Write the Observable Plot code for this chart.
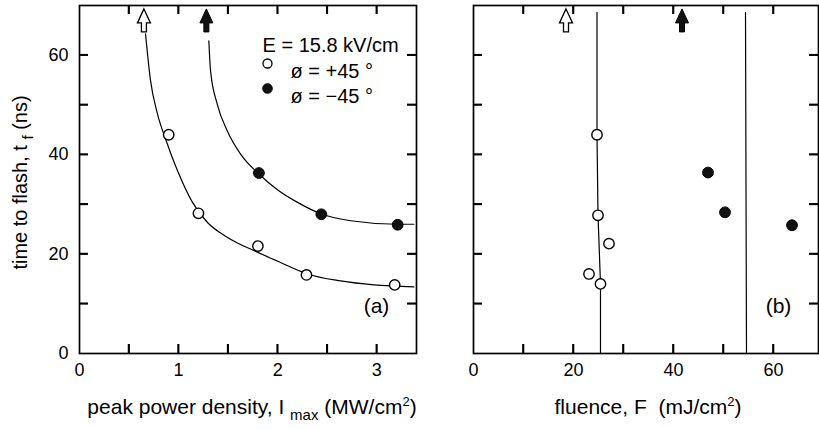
<!DOCTYPE html>
<html><head><meta charset="utf-8">
<script src="https://cdn.jsdelivr.net/npm/d3@7"></script>
<script src="https://cdn.jsdelivr.net/npm/@observablehq/plot@0.6"></script>
<style>
html,body{margin:0;padding:0;background:#fff;}
#wrap{position:relative;width:819px;height:429px;overflow:hidden;background:#fff;}
#pa{position:absolute;left:0;top:0;}
#pb{position:absolute;left:420px;top:0;}
</style></head>
<body><div id="wrap"><div id="pa"></div><div id="pb"></div></div>
<script>
// ---- data: panel (a) time to flash vs peak power density ----
const powerOpen = [0.9, 1.2, 1.8, 2.29, 3.18];
const timeOpen = [44, 28.2, 21.6, 15.8, 13.8];
const powerFilled = [1.81, 2.44, 3.21];
const timeFilled = [36.3, 28.0, 25.9];
// fitted curves
const curveOpenX = [0.666, 0.716, 0.784, 0.878, 0.986, 1.137, 1.289, 1.49, 1.793, 2.028, 2.298, 2.634, 2.97, 3.373];
const curveOpenY = [64.3, 55.0, 48.4, 42.6, 36.9, 30.5, 26.4, 23.4, 20.4, 18.3, 16.0, 14.6, 13.8, 13.4];
const curveFilledX = [1.305, 1.322, 1.389, 1.49, 1.625, 1.81, 2.0, 2.2, 2.449, 2.735, 3.206, 3.373];
const curveFilledY = [62.9, 56.9, 50.2, 44.8, 40.1, 36.1, 32.9, 30.4, 28.0, 26.7, 26.0, 26.0];
const arrowPowerOpen = [0.65];
const arrowPowerFilled = [1.28];
// ---- data: panel (b) time to flash vs fluence ----
const fluenceOpen = [24.7, 24.9, 27.1, 23.1, 25.4];
const fluenceTimeOpen = [44, 27.8, 22.1, 16.0, 14.0];
const fluenceFilled = [46.9, 50.3, 63.7];
const fluenceTimeFilled = [36.4, 28.4, 25.8];
const thresholdOpenF = [24.7, 24.7, 24.9, 25.4, 25.4];
const thresholdOpenT = [68.6, 44, 27.8, 14.0, 0];
const thresholdFilledF = [54.4, 54.6];
const thresholdFilledT = [68.6, 0];
const arrowFluenceOpen = [18.5];
const arrowFluenceFilled = [41.7];
const arrowTime = 67;
// ---- ticks and labels ----
const powerTicks = [0, 1, 2, 3];
const powerMinor = [0.5, 1, 1.5, 2, 2.5, 3];
const fluenceTicks = [0, 20, 40, 60];
const fluenceMinor = [10, 20, 30, 40, 50, 60];
const timeTicks = [0, 20, 40, 60];
const timeMinor = [10, 20, 30, 40, 50, 60];
const legendTitle = "E = 15.8 kV/cm";
const legendOpen = "ø = +45 °";
const legendFilled = "ø = −45 °";
const xLabelA = "peak power density, I max (MW/cm2)";
const xLabelB = "fluence, F  (mJ/cm2)";
const yLabel = "time to flash, t f (ns)";

const zip = (xs, ys) => xs.map((x, i) => ({x, y: ys[i]}));
const arrowUp = {draw(ctx) {
  ctx.moveTo(0, -11.5); ctx.lineTo(6.5, 2.5); ctx.lineTo(2.5, 2.5); ctx.lineTo(2.5, 11.5);
  ctx.lineTo(-2.5, 11.5); ctx.lineTo(-2.5, 2.5); ctx.lineTo(-6.5, 2.5); ctx.closePath();
}};
const H = 429, MT = 5, MB = 76;
const FH = H - MT - MB; // frame height in px
const TL = 9; // inward tick length in px
const font = "'Liberation Sans', Arial, Helvetica, sans-serif";
const style = {fontFamily: font, fontSize: "18px", background: "white", color: "black", overflow: "visible"};
const tk = {stroke: "black", strokeWidth: 1.6};
const tickMarks = (xMinor, yMinor, FW) => [
  Plot.tickX(xMinor, {x: d => d, insetTop: FH - TL, ...tk}),
  Plot.tickX(xMinor, {x: d => d, insetBottom: FH - TL, ...tk}),
  Plot.tickY(yMinor, {y: d => d, insetRight: FW - TL, ...tk}),
  Plot.tickY(yMinor, {y: d => d, insetLeft: FW - TL, ...tk})
];

const plotA = Plot.plot({
  width: 420, height: H, marginLeft: 79, marginRight: 4, marginTop: MT, marginBottom: MB,
  style,
  x: {domain: [0, 3.4], axis: null},
  y: {domain: [0, 70], axis: null},
  marks: [
    Plot.axisX(powerTicks, {anchor: "bottom", tickSize: 0, tickPadding: 10, label: null, fontSize: 18}),
    Plot.axisY(timeTicks, {anchor: "left", tickSize: 0, tickPadding: 11, label: null, fontSize: 18}),
    Plot.line(zip(curveOpenX, curveOpenY), {x: "x", y: "y", curve: "monotone-x", stroke: "black", strokeWidth: 1.2}),
    Plot.line(zip(curveFilledX, curveFilledY), {x: "x", y: "y", curve: "monotone-x", stroke: "black", strokeWidth: 1.2}),
    Plot.dot(zip(powerOpen, timeOpen), {x: "x", y: "y", r: 5.2, fill: "white", stroke: "black", strokeWidth: 1.4}),
    Plot.dot(zip(powerFilled, timeFilled), {x: "x", y: "y", r: 5.4, fill: "#111", stroke: "black", strokeWidth: 1}),
    Plot.dot(arrowPowerOpen, {x: d => d, y: () => arrowTime, symbol: arrowUp, fill: "white", stroke: "black", strokeWidth: 1.3}),
    Plot.dot(arrowPowerFilled, {x: d => d, y: () => arrowTime, symbol: arrowUp, fill: "#111", stroke: "black", strokeWidth: 1}),
    Plot.text([legendTitle], {frameAnchor: "top-left", dx: 183, dy: 32, textAnchor: "start", fontSize: 20}),
    Plot.dot([0], {frameAnchor: "top-left", dx: 188, dy: 58, r: 4.5, fill: "white", stroke: "black", strokeWidth: 1.3}),
    Plot.dot([0], {frameAnchor: "top-left", dx: 188, dy: 83, r: 4.8, fill: "#111", stroke: "black", strokeWidth: 1}),
    Plot.text([legendOpen], {frameAnchor: "top-left", dx: 211, dy: 58, textAnchor: "start", fontSize: 20}),
    Plot.text([legendFilled], {frameAnchor: "top-left", dx: 211, dy: 83, textAnchor: "start", fontSize: 20}),
    Plot.text(["(a)"], {frameAnchor: "bottom-right", dx: -40, dy: -41, textAnchor: "middle", fontSize: 21}),
    Plot.text([xLabelA], {frameAnchor: "bottom", dx: 4, dy: 60, textAnchor: "middle", fontSize: 21}),
    Plot.text([yLabel], {frameAnchor: "left", dx: -59, dy: 3, rotate: -90, textAnchor: "middle", fontSize: 20}),
    Plot.frame({stroke: "black", strokeWidth: 1.7}),
    ...tickMarks(powerMinor, timeMinor, 420 - 79 - 4)
  ]
});

const plotB = Plot.plot({
  width: 399, height: H, marginLeft: 53, marginRight: 1, marginTop: MT, marginBottom: MB,
  style,
  x: {domain: [0, 69], axis: null},
  y: {domain: [0, 70], axis: null},
  marks: [
    Plot.axisX(fluenceTicks, {anchor: "bottom", tickSize: 0, tickPadding: 10, label: null, fontSize: 18}),
    Plot.line(zip(thresholdOpenF, thresholdOpenT), {x: "x", y: "y", stroke: "black", strokeWidth: 1.2}),
    Plot.line(zip(thresholdFilledF, thresholdFilledT), {x: "x", y: "y", stroke: "black", strokeWidth: 1.2}),
    Plot.dot(zip(fluenceOpen, fluenceTimeOpen), {x: "x", y: "y", r: 5.2, fill: "white", stroke: "black", strokeWidth: 1.4}),
    Plot.dot(zip(fluenceFilled, fluenceTimeFilled), {x: "x", y: "y", r: 5.4, fill: "#111", stroke: "black", strokeWidth: 1}),
    Plot.dot(arrowFluenceOpen, {x: d => d, y: () => arrowTime, symbol: arrowUp, fill: "white", stroke: "black", strokeWidth: 1.3}),
    Plot.dot(arrowFluenceFilled, {x: d => d, y: () => arrowTime, symbol: arrowUp, fill: "#111", stroke: "black", strokeWidth: 1}),
    Plot.text(["(b)"], {frameAnchor: "bottom-right", dx: -40, dy: -41, textAnchor: "middle", fontSize: 21}),
    Plot.text([xLabelB], {frameAnchor: "bottom", dx: 2, dy: 60, textAnchor: "middle", fontSize: 21}),
    Plot.frame({stroke: "black", strokeWidth: 1.7}),
    ...tickMarks(fluenceMinor, timeMinor, 399 - 53 - 1)
  ]
});

document.getElementById("pa").appendChild(plotA);
document.getElementById("pb").appendChild(plotB);

// inward tick marks placed through the plots' own x and y scales
function inwardTicks(svg, xMinor, yMinor) {
  const sx = svg.scale("x"), sy = svg.scale("y");
  const xl = Math.min(...sx.range), xr = Math.max(...sx.range);
  const yt = Math.min(...sy.range), yb = Math.max(...sy.range);
  const g = d3.select(svg).append("g").attr("stroke", "black").attr("stroke-width", 1.6).attr("fill", "none");
  for (const v of xMinor) {
    const px = sx.apply(v);
    g.append("line").attr("x1", px).attr("x2", px).attr("y1", yb).attr("y2", yb - TL);
    g.append("line").attr("x1", px).attr("x2", px).attr("y1", yt).attr("y2", yt + TL);
  }
  for (const v of yMinor) {
    const py = sy.apply(v);
    g.append("line").attr("y1", py).attr("y2", py).attr("x1", xl).attr("x2", xl + TL);
    g.append("line").attr("y1", py).attr("y2", py).attr("x1", xr).attr("x2", xr - TL);
  }
}
inwardTicks(plotA, powerMinor, timeMinor);
inwardTicks(plotB, fluenceMinor, timeMinor);

// rich text: subscripts and superscripts inside axis labels
function rich(svg, plain, parts) {
  d3.select(svg).selectAll("text").filter(function() { return this.textContent === plain; }).each(function() {
    const t = d3.select(this);
    t.text(null);
    let shift = 0;
    for (const p of parts) {
      const s = t.append("tspan").text(p.t);
      const target = p.sub ? 6 : p.sup ? -8 : 0;
      if (target !== shift) { s.attr("dy", target - shift); shift = target; }
      if (p.sub || p.sup) s.attr("font-size", p.sub ? 15 : 13);
    }
  });
}
rich(plotA, xLabelA, [{t: "peak power density, I "}, {t: "max", sub: true}, {t: " (MW/cm"}, {t: "2", sup: true}, {t: ")"}]);
rich(plotB, xLabelB, [{t: "fluence, F  (mJ/cm"}, {t: "2", sup: true}, {t: ")"}]);
rich(plotA, yLabel, [{t: "time to flash, t "}, {t: "f", sub: true}, {t: " (ns)"}]);
</script>
</body></html>
